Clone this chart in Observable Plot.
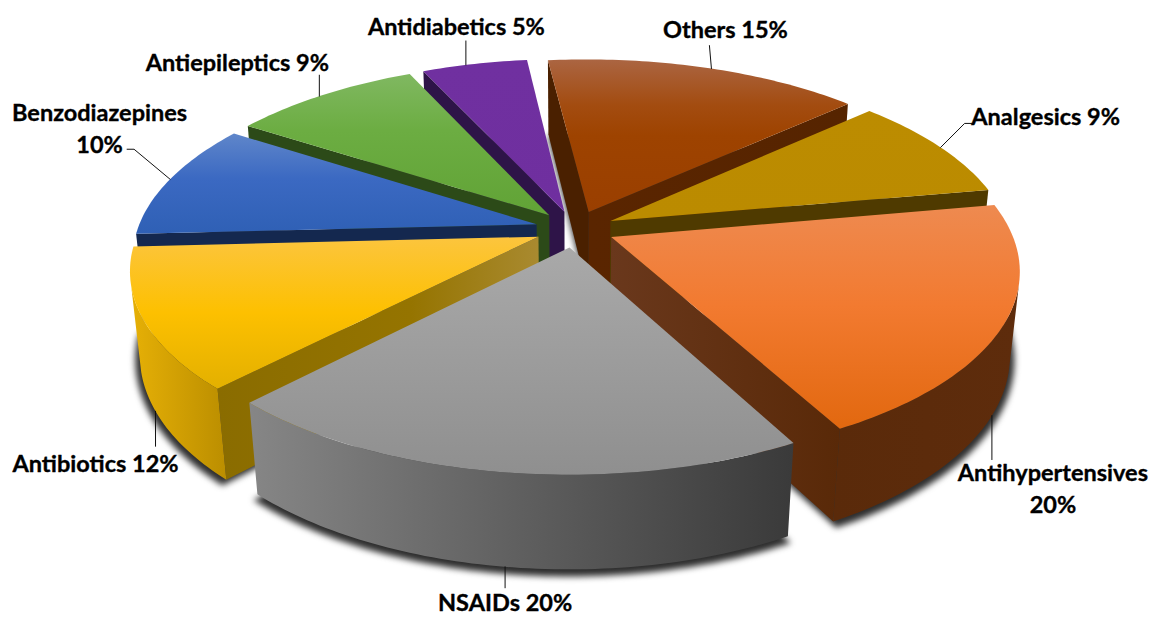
<!DOCTYPE html>
<html>
<head>
<meta charset="utf-8">
<title>Drug classes</title>
<script src="https://cdn.jsdelivr.net/npm/d3@7"></script>
<script src="https://cdn.jsdelivr.net/npm/@observablehq/plot@0.6"></script>
<style>
  html, body { margin: 0; padding: 0; background: #fff; }
  svg { display: block; }
</style>
</head>
<body>
<div id="chart"></div>
<script>
// Drug classes and their share of the total, clockwise from the back of the pie.
const classes = ["Others", "Analgesics", "Antihypertensives", "NSAIDs", "Antibiotics", "Benzodiazepines", "Antiepileptics", "Antidiabetics"];
const shares = [15, 9, 20, 20, 12, 10, 9, 5];
const breakAfterName = [false, false, true, false, false, true, false, false];

// Camera and pie solid.
const view = {cx: 574.5, cy: 228.5, a: 399, b: 183, p: 0.165, h: 85, q: 0.022, explode: 0.1, start: -6.6};

// Fill ramps for every slice: top face, outer wall, cut walls at the slice's first and last edge.
const topRamps = [
  [[0, "#ab6542"], [0.3, "#a34c10"], [0.5, "#9e4300"], [1, "#9a3f00"]],
  [[0, "#bc8c00"], [1, "#bb8b00"]],
  [[0, "#ee8a50"], [0.45, "#f27a30"], [1, "#e2680f"]],
  [[0, "#a9a9a9"], [1, "#8f8f8f"]],
  [[0, "#fcc53e"], [0.5, "#fdc000"], [1, "#e3b000"]],
  [[0, "#5f86ca"], [0.45, "#3b69c2"], [1, "#2f60b5"]],
  [[0, "#80b861"], [0.4, "#6cad42"], [1, "#61a336"]],
  [[0, "#7030a0"], [1, "#6f2f9f"]]
];
const outerRamps = [
  [[0, "#5a2500"], [1, "#5f2a04"]],
  [[0, "#4f3a00"], [1, "#4f3a00"]],
  [[0, "#5a2a0a"], [1, "#5e2c0c"]],
  [[0, "#868686"], [0.5, "#5f5f5f"], [1, "#3a3a3a"]],
  [[0, "#e6b006"], [1, "#bb8e00"]],
  [[0, "#14284f"], [1, "#14284f"]],
  [[0, "#2c4a18"], [1, "#2c4a18"]],
  [[0, "#2e1448"], [1, "#2e1448"]]
];
const firstCutRamps = [
  [[0, "#4a2000"], [1, "#4a2000"]],
  [[0, "#4f3a00"], [1, "#4f3a00"]],
  [[0, "#5a2a0a"], [1, "#5a2a0a"]],
  [[0, "#555"], [1, "#555"]],
  [[0, "#8a6c00"], [0.6, "#957400"], [1, "#a98a30"]],
  [[0, "#14284f"], [1, "#14284f"]],
  [[0, "#2c4a18"], [1, "#2c4a18"]],
  [[0, "#2e1448"], [1, "#2e1448"]]
];
const lastCutRamps = [
  [[0, "#5a2500"], [1, "#562400"]],
  [[0, "#4f3a00"], [1, "#4f3a00"]],
  [[0, "#6a381c"], [1, "#592908"]],
  [[0, "#555"], [1, "#555"]],
  [[0, "#8a6c00"], [1, "#a98a30"]],
  [[0, "#14284f"], [1, "#14284f"]],
  [[0, "#2c4a18"], [1, "#2c4a18"]],
  [[0, "#2e1448"], [1, "#2e1448"]]
];

// Label placement relative to each slice's rim point: angular nudge, rim height, leader bends, label centre.
const labelLayout = [
  {nudge: 1.0, z: 0, leader: [[-2, -23]], text: [14, -41]},
  {nudge: 0.5, z: 0, leader: [[24, -24], [31, -24]], text: [105, -32.5]},
  {nudge: 1.0, z: 1, leader: [[0, 44]], text: [61, 71.5]},
  {nudge: -0.1, z: 1, leader: [[0, 21]], text: [0, 34]},
  {nudge: -1.1, z: 1, leader: [[0, 35]], text: [-60, 51]},
  {nudge: 0, z: 0, leader: [[-36, -30], [-43, -30]], text: [-70.5, -52.5]},
  {nudge: -0.7, z: 0, leader: [[0, -21]], text: [-82, -35]},
  {nudge: -1.5, z: 0, leader: [[0, -24]], text: [-9.5, -40]}
];

const rad = (deg) => deg * Math.PI / 180;
const slices = d3.pie().value((d) => d).sort(null)
  .startAngle(rad(view.start)).endAngle(rad(view.start + 360))(shares);

// Ground-plane point of a slice at a given angle and radius, then the perspective view of it.
function place(slice, angle, r, z) {
  const mid = (slice.startAngle + slice.endAngle) / 2;
  const u = r * Math.sin(angle) + view.explode * Math.sin(mid);
  const v = -r * Math.cos(angle) - view.explode * Math.cos(mid);
  const w = 1 - view.p * v + view.q * z;
  return {x: view.cx + view.a * u / w, y: view.cy + (view.b * v + view.h * z) / w};
}

function rimAngles(slice) {
  const n = Math.max(2, Math.ceil((slice.endAngle - slice.startAngle) / rad(1)));
  return d3.range(n + 1).map((i) => slice.startAngle + (slice.endAngle - slice.startAngle) * i / n);
}

// A wall between two outline points faces the viewer when its quad winds this way on screen.
function faces(a0, a1, b0, b1) {
  const q = [a0, a1, b1, b0];
  return d3.sum(q, (p, i) => {
    const n = q[(i + 1) % 4];
    return p.x * n.y - n.x * p.y;
  }) < 0;
}

function wedge(slice, z, r = 1) {
  return [place(slice, 0, 0, z), ...rimAngles(slice).map((t) => place(slice, t, r, z))];
}

function outerWall(slice) {
  const angles = rimAngles(slice);
  const seen = angles.filter((t, i) => {
    const next = angles[i + 1] ?? t;
    const prev = angles[i - 1] ?? t;
    const a = i < angles.length - 1 ? t : prev;
    const b = i < angles.length - 1 ? next : t;
    return faces(place(slice, a, 1, 0), place(slice, b, 1, 0), place(slice, a, 1, 1), place(slice, b, 1, 1));
  });
  if (seen.length < 2) return null;
  return [...seen.map((t) => place(slice, t, 1, 0)), ...seen.slice().reverse().map((t) => place(slice, t, 1, 1))];
}

function cutWall(slice, first) {
  const apex0 = place(slice, 0, 0, 0), apex1 = place(slice, 0, 0, 1);
  const t = first ? slice.startAngle : slice.endAngle;
  const rim0 = place(slice, t, 1, 0), rim1 = place(slice, t, 1, 1);
  const visible = first ? faces(apex0, rim0, apex1, rim1) : faces(rim0, apex0, rim1, apex1);
  return visible ? [apex0, rim0, rim1, apex1] : null;
}

// Gradient definitions shared by the faces of the solid.
function gradients() {
  const defs = d3.create("svg:defs");
  const add = (id, ramp, vertical) => {
    const g = defs.append("linearGradient").attr("id", id)
      .attr("x1", 0).attr("y1", 0).attr("x2", vertical ? 0 : 1).attr("y2", vertical ? 1 : 0);
    ramp.forEach(([o, c]) => g.append("stop").attr("offset", o).attr("stop-color", c));
  };
  slices.forEach((_, i) => {
    add(`top${i}`, topRamps[i], true);
    add(`outer${i}`, outerRamps[i], false);
    add(`first${i}`, firstCutRamps[i], false);
    add(`last${i}`, lastCutRamps[i], false);
  });
  return defs.node();
}

const face = (points, fill) => Plot.line(points, {x: "x", y: "y", fill, stroke: "none", curve: "linear"});

// Paint from the back of the pie to the front.
const order = d3.range(slices.length).sort((i, j) => {
  const depth = (s) => -Math.cos((s.startAngle + s.endAngle) / 2);
  return depth(slices[i]) - depth(slices[j]);
});

const shadowPoints = slices.flatMap((s, i) => wedge(s, 1.04, 1.012).map((p) => ({...p, slice: i})));

const solid = order.flatMap((i) => {
  const s = slices[i];
  const out = [];
  const firstCut = cutWall(s, true), lastCut = cutWall(s, false), outer = outerWall(s);
  if (firstCut) out.push(face(firstCut, `url(#first${i})`));
  if (lastCut) out.push(face(lastCut, `url(#last${i})`));
  if (outer) out.push(face(outer, `url(#outer${i})`));
  out.push(face(wedge(s, 0), `url(#top${i})`));
  return out;
});

const rimPoints = slices.map((s, i) =>
  place(s, (s.startAngle + s.endAngle) / 2 + rad(labelLayout[i].nudge), 1, labelLayout[i].z));
const leaders = rimPoints.flatMap((p, i) => [
  {x: p.x, y: p.y, slice: i},
  ...labelLayout[i].leader.map(([dx, dy]) => ({x: p.x + dx, y: p.y + dy, slice: i}))
]);
const labels = classes.map((name, i) => ({
  x: rimPoints[i].x + labelLayout[i].text[0],
  y: rimPoints[i].y + labelLayout[i].text[1],
  text: `${name}${breakAfterName[i] ? "\n" : " "}${shares[i]}%`
}));

const chart = Plot.plot({
  width: 1151,
  height: 618,
  margin: 0,
  style: {background: "#fff", overflow: "visible"},
  x: {domain: [0, 1151], range: [0, 1151], axis: null},
  y: {domain: [0, 618], range: [0, 618], axis: null},
  marks: [
    gradients,
    Plot.line(shadowPoints, {x: "x", y: "y", z: "slice", fill: "#2e2e2e", stroke: "none", imageFilter: "blur(3px)"}),
    ...solid,
    Plot.line(leaders, {x: "x", y: "y", z: "slice", stroke: "#111", strokeWidth: 1, curve: "linear"}),
    Plot.text(labels, {
      x: "x", y: "y", text: "text",
      fontFamily: "Lato", fontWeight: 700, fontSize: 23.5, fill: "#000",
      stroke: "#000", strokeWidth: 0.35, lineHeight: 1.36
    })
  ]
});
document.getElementById("chart").append(chart);
</script>
</body>
</html>
